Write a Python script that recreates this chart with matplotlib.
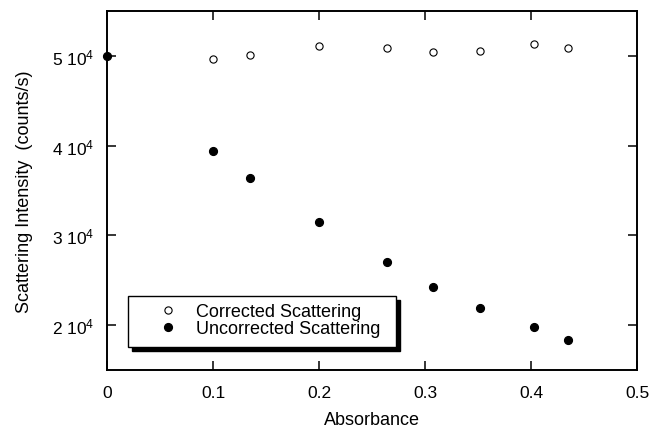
import matplotlib
matplotlib.use("Agg")
import matplotlib.pyplot as plt
from matplotlib.ticker import FixedLocator, FuncFormatter
from matplotlib.patches import Rectangle

plt.rcParams['font.family'] = ['Liberation Sans', 'DejaVu Sans']
plt.rcParams['mathtext.fontset'] = 'custom'
plt.rcParams['mathtext.rm'] = 'Liberation Sans'
plt.rcParams['mathtext.it'] = 'Liberation Sans'

absorbance_corr = [0.1, 0.135, 0.2, 0.264, 0.308, 0.352, 0.4025, 0.435]
corrected = [49670, 50100, 51150, 50930, 50410, 50560, 51330, 50850]
absorbance_unc = [0.0, 0.1, 0.135, 0.2, 0.264, 0.308, 0.352, 0.4025, 0.435]
uncorrected = [50000, 39410, 36410, 31520, 27080, 24220, 21890, 19740, 18300]
x_ticks = [0, 0.1, 0.2, 0.3, 0.4, 0.5]
y_ticks = [20000, 30000, 40000, 50000]

W, H = 649, 431
fig = plt.figure(figsize=(W / 100, H / 100), dpi=100)
L, R, T, B = 107, 637, 12, 371
ax = fig.add_axes([L / W, 1 - B / H, (R - L) / W, (B - T) / H])

def afx(px):
    return (px - L) / (R - L)

def afy(py):
    return (B - py) / (B - T)

ax.plot(absorbance_corr, corrected, 'o', ms=5.2, mfc='white', mec='black', mew=0.8,
        label='Corrected Scattering', clip_on=False, zorder=3)
ax.plot(absorbance_unc, uncorrected, 'o', ms=5.6, mfc='black', mec='black',
        label='Uncorrected Scattering', clip_on=False, zorder=3)

ax.set_xlim(0, 0.5)
ax.set_ylim(15000, 55000)
ax.xaxis.set_major_locator(FixedLocator(x_ticks))
ax.yaxis.set_major_locator(FixedLocator(y_ticks))
ax.xaxis.set_major_formatter(FuncFormatter(lambda v, p: '0' if v == 0 else ('%g' % v)))
ax.yaxis.set_major_formatter(FuncFormatter(lambda v, p: r'%d $\mathregular{10^4}$' % round(v / 10000)))

ax.tick_params(direction='in', length=6.5, width=1.1, top=True, right=True,
               labelsize=12.5)
ax.tick_params(axis='x', pad=11)
ax.tick_params(axis='y', pad=9)
for s in ax.spines.values():
    s.set_linewidth(1.4)

ax.set_xlabel('Absorbance', fontsize=13, labelpad=8)
ax.set_ylabel('Scattering Intensity  (counts/s)', fontsize=13, labelpad=14)

# legend frame with offset shadow
bx0, bx1, by0, by1 = 128, 396, 297, 348
sh = 3.5
ax.add_patch(Rectangle((afx(bx0 + sh), afy(by1 + sh)), afx(bx1) - afx(bx0), afy(by0) - afy(by1),
                       transform=ax.transAxes, facecolor='black', edgecolor='black',
                       zorder=4, clip_on=False))
ax.add_patch(Rectangle((afx(bx0), afy(by1)), afx(bx1) - afx(bx0), afy(by0) - afy(by1),
                       transform=ax.transAxes, facecolor='white', edgecolor='black',
                       linewidth=1.0, zorder=5, clip_on=False))

leg = ax.legend(loc='upper left', bbox_to_anchor=(afx(150), afy(304)), borderaxespad=0,
                borderpad=0, fontsize=13, frameon=False,
                handletextpad=0.55, handlelength=2.0, labelspacing=0.0)
leg.set_zorder(6)

fig.savefig('out.png', dpi=100)
